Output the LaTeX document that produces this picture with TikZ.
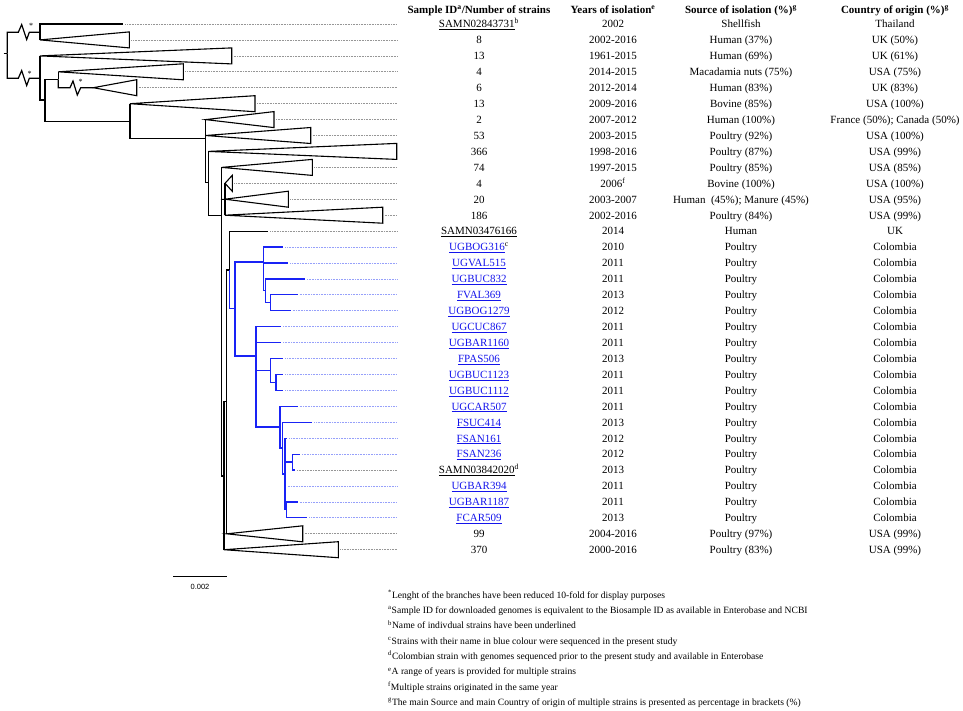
\documentclass[tikz,border=0pt]{standalone}
\usepackage{fontspec}
\setmainfont{Liberation Serif}
\newfontfamily\barfont{Liberation Sans}
\usepackage{xcolor}

\definecolor{treeblue}{RGB}{25,35,245}
\definecolor{linkblue}{RGB}{20,20,235}
\definecolor{leadgray}{RGB}{150,150,150}
\definecolor{leadblue}{RGB}{150,160,250}

\begin{document}
\begin{tikzpicture}[x=1pt,y=-1pt,
	branch/.style={line width=1.2pt},
	bluebranch/.style={branch, treeblue},
	clade/.style={line width=1.1pt},
	leader/.style={leadgray, line width=0.7pt, dash pattern=on 0.8pt off 0.8pt, shorten <=2pt},
	blueleader/.style={leader, leadblue},
	head/.style={font=\fontsize{11}{13}\selectfont\bfseries, anchor=base, yshift=-3.8pt, inner sep=0pt},
	cell/.style={font=\fontsize{11}{13}\selectfont, anchor=base, yshift=-3.8pt, inner sep=0pt},
	bluecell/.style={cell, text=linkblue},
	note/.style={font=\fontsize{9.6}{11}\selectfont, anchor=base west, yshift=-3.3pt, inner sep=0pt},
	star/.style={font=\fontsize{8}{8}\selectfont, inner sep=0pt}]
	\useasboundingbox (0,0) rectangle (963,710);

	% Tree nodes
	\coordinate (stub) at (3.5,53.3);
	\coordinate (root) at (7.3,53.3);
	\coordinate (n1) at (40,32.3);
	\coordinate (n2) at (40,78.3);
	\coordinate (n3) at (45,100);
	\coordinate (n4) at (58.3,79.3);
	\coordinate (n5) at (130,121.7);
	\coordinate (n6) at (205.7,138.3);
	\coordinate (n7) at (208.3,182.7);
	\coordinate (n8) at (221.7,215.2);
	\coordinate (n9) at (225,199.2);
	\coordinate (n10) at (224,476);
	\coordinate (n11) at (226.7,401.7);
	\coordinate (n12) at (229.3,270);
	\coordinate (b1) at (235,308.3);
	\coordinate (b2) at (263.3,262);
	\coordinate (b3) at (265.7,290.8);
	\coordinate (b4) at (270.7,302.7);
	\coordinate (b5) at (256,356);
	\coordinate (b6) at (270.7,370.4);
	\coordinate (b7) at (276,382.4);
	\coordinate (b8) at (280,427);
	\coordinate (b9) at (282.7,448);
	\coordinate (b10) at (285,474);
	\coordinate (b11) at (292.7,462);
	\coordinate (b12) at (286.7,509.8);

	% Single strains
	\coordinate (t1) at (123.3,24);
	\coordinate (t14) at (268.3,231.1);
	\coordinate (t15) at (283.3,247);
	\coordinate (t16) at (288.3,262.9);
	\coordinate (t17) at (305,278.9);
	\coordinate (t18) at (297.7,294.8);
	\coordinate (t19) at (290.7,310.7);
	\coordinate (t20) at (281,326.7);
	\coordinate (t21) at (281,342.6);
	\coordinate (t22) at (283.3,358.5);
	\coordinate (t23) at (283.3,374.4);
	\coordinate (t24) at (283.3,390.4);
	\coordinate (t25) at (297.7,406.3);
	\coordinate (t26) at (312.3,422.2);
	\coordinate (t27) at (287.3,438.2);
	\coordinate (t28) at (300,454.1);
	\coordinate (t29) at (295,470);
	\coordinate (t30) at (285.7,485.9);
	\coordinate (t31) at (297.7,501.9);
	\coordinate (t32) at (307.3,517.8);

	% Collapsed clades (apex, right side)
	\coordinate (a2) at (40,39.9);      \coordinate (w2) at (129.3,39.9);
	\coordinate (a3) at (40,55.9);      \coordinate (w3) at (231.7,55.9);
	\coordinate (a4) at (58.3,71.8);    \coordinate (w4) at (183.3,71.8);
	\coordinate (a5) at (93.3,87.7);    \coordinate (w5) at (136.7,87.7);
	\coordinate (a6) at (130,103.7);    \coordinate (w6) at (255,103.7);
	\coordinate (a7) at (205.7,119.6);  \coordinate (w7) at (274,119.6);
	\coordinate (a8) at (205.7,135.5);  \coordinate (w8) at (310.7,135.5);
	\coordinate (a9) at (208.3,151.4);  \coordinate (w9) at (396.7,151.4);
	\coordinate (a10) at (221.7,167.4); \coordinate (w10) at (312.3,167.4);
	\coordinate (a11) at (225,183.3);   \coordinate (w11) at (232.3,183.3);
	\coordinate (a12) at (225,199.2);   \coordinate (w12) at (288.3,199.2);
	\coordinate (a13) at (225,215.2);   \coordinate (w13) at (382.7,215.2);
	\coordinate (a33) at (226.7,533.8); \coordinate (w33) at (302.7,533.8);
	\coordinate (a34) at (224,549.7);   \coordinate (w34) at (338.3,549.7);

	\coordinate (rim) at (397,0);

	% Branches
	\draw[branch] (stub) -- (root);
	\draw[branch] (root) |- (18.3,32.3) -- (21.7,24.5) -- (26.7,39.5) -- (29.3,32.3) -- (n1);
	\draw[branch] (root) |- (18.3,78.3) -- (21.7,70.5) -- (26.7,85.5) -- (29.3,78.3) -- (n2);
	\draw[branch] (n1) |- (t1);
	\draw[branch] (n1) |- (a2);
	\draw[branch] (n2) |- (a3);
	\draw[branch] (n2) |- (n3);
	\draw[branch] (n3) |- (n4);
	\draw[branch] (n3) |- (n5);
	\draw[branch] (n4) |- (a4);
	\draw[branch] (n4) |- (70,87.7) -- (73,81) -- (77.3,95) -- (80.7,87.7) -- (a5);
	\draw[branch] (n5) |- (a6);
	\draw[branch] (n5) |- (n6);
	\draw[branch] (n6) |- (a7);
	\draw[branch] (n6) |- (a8);
	\draw[branch] (n6) |- (n7);
	\draw[branch] (n7) |- (a9);
	\draw[branch] (n7) |- (n8);
	\draw[branch] (n8) |- (a10);
	\draw[branch] (n8) |- (n9);
	\draw[branch] (n8) |- (n10);
	\draw[branch] (n9) |- (a11);
	\draw[branch] (n9) |- (a13);
	\draw[branch] (n10) |- (n11);
	\draw[branch] (n10) |- (a34);
	\draw[branch] (n11) |- (n12);
	\draw[branch] (n11) |- (a33);
	\draw[branch] (n12) |- (t14);

	% Colombian clade
	\draw[bluebranch] (n12) |- (b1);
	\draw[bluebranch] (b1) |- (b2);
	\draw[bluebranch] (b1) |- (b5);
	\draw[bluebranch] (b2) |- (t15);
	\draw[bluebranch] (b2) |- (t16);
	\draw[bluebranch] (b2) |- (b3);
	\draw[bluebranch] (b3) |- (t17);
	\draw[bluebranch] (b3) |- (b4);
	\draw[bluebranch] (b4) |- (t18);
	\draw[bluebranch] (b4) |- (t19);
	\draw[bluebranch] (b5) |- (t20);
	\draw[bluebranch] (b5) |- (t21);
	\draw[bluebranch] (b5) |- (b6);
	\draw[bluebranch] (b5) |- (b8);
	\draw[bluebranch] (b6) |- (t22);
	\draw[bluebranch] (b6) |- (b7);
	\draw[bluebranch] (b7) |- (t23);
	\draw[bluebranch] (b7) |- (t24);
	\draw[bluebranch] (b8) |- (t25);
	\draw[bluebranch] (b8) |- (b9);
	\draw[bluebranch] (b9) |- (t26);
	\draw[bluebranch] (b9) |- (b10);
	\draw[bluebranch] (b10) |- (t27);
	\draw[bluebranch] (b10) |- (b11);
	\draw[bluebranch] (b10) |- (t30);
	\draw[bluebranch] (b10) |- (b12);
	\draw[bluebranch] (b11) |- (t28);
	\draw[bluebranch] (b11) |- (t29);
	\draw[bluebranch] (b12) |- (t31);
	\draw[bluebranch] (b12) |- (t32);

	% Collapsed triangles
	\draw[clade] (a2) -- ([yshift=8pt]w2) -- ([yshift=-8pt]w2) -- cycle;
	\draw[clade] (a3) -- ([yshift=8pt]w3) -- ([yshift=-8pt]w3) -- cycle;
	\draw[clade] (a4) -- ([yshift=8pt]w4) -- ([yshift=-8pt]w4) -- cycle;
	\draw[clade] (a5) -- ([yshift=8pt]w5) -- ([yshift=-8pt]w5) -- cycle;
	\draw[clade] (a6) -- ([yshift=8pt]w6) -- ([yshift=-8pt]w6) -- cycle;
	\draw[clade] (a7) -- ([yshift=8pt]w7) -- ([yshift=-8pt]w7) -- cycle;
	\draw[clade] (a8) -- ([yshift=8pt]w8) -- ([yshift=-8pt]w8) -- cycle;
	\draw[clade] (a9) -- ([yshift=8pt]w9) -- ([yshift=-8pt]w9) -- cycle;
	\draw[clade] (a10) -- ([yshift=8pt]w10) -- ([yshift=-8pt]w10) -- cycle;
	\draw[clade] (a11) -- ([yshift=8pt]w11) -- ([yshift=-8pt]w11) -- cycle;
	\draw[clade] (a12) -- ([yshift=8pt]w12) -- ([yshift=-8pt]w12) -- cycle;
	\draw[clade] (a13) -- ([yshift=8pt]w13) -- ([yshift=-8pt]w13) -- cycle;
	\draw[clade] (a33) -- ([yshift=8pt]w33) -- ([yshift=-8pt]w33) -- cycle;
	\draw[clade] (a34) -- ([yshift=8pt]w34) -- ([yshift=-8pt]w34) -- cycle;

	% Reduced branches
	\node[star] (s1) at (31,26) {*};
	\node[star] (s2) at (29.7,73.5) {*};
	\node[star] (s3) at (80.7,82) {*};

	% Leaders
	\draw[leader] (t1) -- (t1 -| rim);
	\draw[leader] (w2) -- (w2 -| rim);
	\draw[leader] (w3) -- (w3 -| rim);
	\draw[leader] (w4) -- (w4 -| rim);
	\draw[leader] (w5) -- (w5 -| rim);
	\draw[leader] (w6) -- (w6 -| rim);
	\draw[leader] (w7) -- (w7 -| rim);
	\draw[leader] (w8) -- (w8 -| rim);
	\draw[leader] (w10) -- (w10 -| rim);
	\draw[leader] (w11) -- (w11 -| rim);
	\draw[leader] (w12) -- (w12 -| rim);
	\draw[leader] (w13) -- (w13 -| rim);
	\draw[leader] (t14) -- (t14 -| rim);
	\draw[blueleader] (t15) -- (t15 -| rim);
	\draw[blueleader] (t16) -- (t16 -| rim);
	\draw[blueleader] (t17) -- (t17 -| rim);
	\draw[blueleader] (t18) -- (t18 -| rim);
	\draw[blueleader] (t19) -- (t19 -| rim);
	\draw[blueleader] (t20) -- (t20 -| rim);
	\draw[blueleader] (t21) -- (t21 -| rim);
	\draw[blueleader] (t22) -- (t22 -| rim);
	\draw[blueleader] (t23) -- (t23 -| rim);
	\draw[blueleader] (t24) -- (t24 -| rim);
	\draw[blueleader] (t25) -- (t25 -| rim);
	\draw[blueleader] (t26) -- (t26 -| rim);
	\draw[blueleader] (t27) -- (t27 -| rim);
	\draw[blueleader] (t28) -- (t28 -| rim);
	\draw[leader] (t29) -- (t29 -| rim);
	\draw[blueleader] (t30) -- (t30 -| rim);
	\draw[blueleader] (t31) -- (t31 -| rim);
	\draw[blueleader] (t32) -- (t32 -| rim);
	\draw[leader] (w33) -- (w33 -| rim);
	\draw[leader] (w34) -- (w34 -| rim);

	% Scale bar
	\coordinate (sbl) at (173,576.7);
	\coordinate (sbr) at (227,576.7);
	\draw[line width=1pt] (sbl) -- (sbr);
	\node[font=\barfont\fontsize{7.5}{8}\selectfont] (sbtext) at (200,586.5) {0.002};

	% Header
	\node[head] (hid) at (479,10) {Sample ID\textsuperscript{a}/Number of strains};
	\node[head] (hyr) at (613,10) {Years of isolation\textsuperscript{e}};
	\node[head] (hsrc) at (741,10) {Source of isolation (\%)\textsuperscript{g}};
	\node[head] (hctry) at (895,10) {Country of origin (\%)\textsuperscript{g}};

	% Sample ID / number of strains
	\node[cell] (id1) at (479,24) {\underline{SAMN02843731}\textsuperscript{b}};
	\node[cell] (id2) at (479,39.9) {8};
	\node[cell] (id3) at (479,55.9) {13};
	\node[cell] (id4) at (479,71.8) {4};
	\node[cell] (id5) at (479,87.7) {6};
	\node[cell] (id6) at (479,103.7) {13};
	\node[cell] (id7) at (479,119.6) {2};
	\node[cell] (id8) at (479,135.5) {53};
	\node[cell] (id9) at (479,151.4) {366};
	\node[cell] (id10) at (479,167.4) {74};
	\node[cell] (id11) at (479,183.3) {4};
	\node[cell] (id12) at (479,199.2) {20};
	\node[cell] (id13) at (479,215.2) {186};
	\node[cell] (id14) at (479,231.1) {\underline{SAMN03476166}};
	\node[bluecell] (id15) at (479,247) {\underline{UGBOG316}\textsuperscript{\color{black}c}};
	\node[bluecell] (id16) at (479,262.9) {\underline{UGVAL515}};
	\node[bluecell] (id17) at (479,278.9) {\underline{UGBUC832}};
	\node[bluecell] (id18) at (479,294.8) {\underline{FVAL369}};
	\node[bluecell] (id19) at (479,310.7) {\underline{UGBOG1279}};
	\node[bluecell] (id20) at (479,326.7) {\underline{UGCUC867}};
	\node[bluecell] (id21) at (479,342.6) {\underline{UGBAR1160}};
	\node[bluecell] (id22) at (479,358.5) {\underline{FPAS506}};
	\node[bluecell] (id23) at (479,374.4) {\underline{UGBUC1123}};
	\node[bluecell] (id24) at (479,390.4) {\underline{UGBUC1112}};
	\node[bluecell] (id25) at (479,406.3) {\underline{UGCAR507}};
	\node[bluecell] (id26) at (479,422.2) {\underline{FSUC414}};
	\node[bluecell] (id27) at (479,438.2) {\underline{FSAN161}};
	\node[bluecell] (id28) at (479,454.1) {\underline{FSAN236}};
	\node[cell] (id29) at (479,470) {\underline{SAMN03842020}\textsuperscript{d}};
	\node[bluecell] (id30) at (479,485.9) {\underline{UGBAR394}};
	\node[bluecell] (id31) at (479,501.9) {\underline{UGBAR1187}};
	\node[bluecell] (id32) at (479,517.8) {\underline{FCAR509}};
	\node[cell] (id33) at (479,533.8) {99};
	\node[cell] (id34) at (479,549.7) {370};

	% Years of isolation
	\node[cell] (yr1) at (613,24) {2002};
	\node[cell] (yr2) at (613,39.9) {2002-2016};
	\node[cell] (yr3) at (613,55.9) {1961-2015};
	\node[cell] (yr4) at (613,71.8) {2014-2015};
	\node[cell] (yr5) at (613,87.7) {2012-2014};
	\node[cell] (yr6) at (613,103.7) {2009-2016};
	\node[cell] (yr7) at (613,119.6) {2007-2012};
	\node[cell] (yr8) at (613,135.5) {2003-2015};
	\node[cell] (yr9) at (613,151.4) {1998-2016};
	\node[cell] (yr10) at (613,167.4) {1997-2015};
	\node[cell] (yr11) at (613,183.3) {2006\textsuperscript{f}};
	\node[cell] (yr12) at (613,199.2) {2003-2007};
	\node[cell] (yr13) at (613,215.2) {2002-2016};
	\node[cell] (yr14) at (613,231.1) {2014};
	\node[cell] (yr15) at (613,247) {2010};
	\node[cell] (yr16) at (613,262.9) {2011};
	\node[cell] (yr17) at (613,278.9) {2011};
	\node[cell] (yr18) at (613,294.8) {2013};
	\node[cell] (yr19) at (613,310.7) {2012};
	\node[cell] (yr20) at (613,326.7) {2011};
	\node[cell] (yr21) at (613,342.6) {2011};
	\node[cell] (yr22) at (613,358.5) {2013};
	\node[cell] (yr23) at (613,374.4) {2011};
	\node[cell] (yr24) at (613,390.4) {2011};
	\node[cell] (yr25) at (613,406.3) {2011};
	\node[cell] (yr26) at (613,422.2) {2013};
	\node[cell] (yr27) at (613,438.2) {2012};
	\node[cell] (yr28) at (613,454.1) {2012};
	\node[cell] (yr29) at (613,470) {2013};
	\node[cell] (yr30) at (613,485.9) {2011};
	\node[cell] (yr31) at (613,501.9) {2011};
	\node[cell] (yr32) at (613,517.8) {2013};
	\node[cell] (yr33) at (613,533.8) {2004-2016};
	\node[cell] (yr34) at (613,549.7) {2000-2016};

	% Source of isolation
	\node[cell] (src1) at (741,24) {Shellfish};
	\node[cell] (src2) at (741,39.9) {Human (37\%)};
	\node[cell] (src3) at (741,55.9) {Human (69\%)};
	\node[cell] (src4) at (741,71.8) {Macadamia nuts (75\%)};
	\node[cell] (src5) at (741,87.7) {Human (83\%)};
	\node[cell] (src6) at (741,103.7) {Bovine (85\%)};
	\node[cell] (src7) at (741,119.6) {Human (100\%)};
	\node[cell] (src8) at (741,135.5) {Poultry (92\%)};
	\node[cell] (src9) at (741,151.4) {Poultry (87\%)};
	\node[cell] (src10) at (741,167.4) {Poultry (85\%)};
	\node[cell] (src11) at (741,183.3) {Bovine (100\%)};
	\node[cell] (src12) at (741,199.2) {Human\ \ (45\%); Manure (45\%)};
	\node[cell] (src13) at (741,215.2) {Poultry (84\%)};
	\node[cell] (src14) at (741,231.1) {Human};
	\node[cell] (src15) at (741,247) {Poultry};
	\node[cell] (src16) at (741,262.9) {Poultry};
	\node[cell] (src17) at (741,278.9) {Poultry};
	\node[cell] (src18) at (741,294.8) {Poultry};
	\node[cell] (src19) at (741,310.7) {Poultry};
	\node[cell] (src20) at (741,326.7) {Poultry};
	\node[cell] (src21) at (741,342.6) {Poultry};
	\node[cell] (src22) at (741,358.5) {Poultry};
	\node[cell] (src23) at (741,374.4) {Poultry};
	\node[cell] (src24) at (741,390.4) {Poultry};
	\node[cell] (src25) at (741,406.3) {Poultry};
	\node[cell] (src26) at (741,422.2) {Poultry};
	\node[cell] (src27) at (741,438.2) {Poultry};
	\node[cell] (src28) at (741,454.1) {Poultry};
	\node[cell] (src29) at (741,470) {Poultry};
	\node[cell] (src30) at (741,485.9) {Poultry};
	\node[cell] (src31) at (741,501.9) {Poultry};
	\node[cell] (src32) at (741,517.8) {Poultry};
	\node[cell] (src33) at (741,533.8) {Poultry (97\%)};
	\node[cell] (src34) at (741,549.7) {Poultry (83\%)};

	% Country of origin
	\node[cell] (ctry1) at (895,24) {Thailand};
	\node[cell] (ctry2) at (895,39.9) {UK (50\%)};
	\node[cell] (ctry3) at (895,55.9) {UK (61\%)};
	\node[cell] (ctry4) at (895,71.8) {USA (75\%)};
	\node[cell] (ctry5) at (895,87.7) {UK (83\%)};
	\node[cell] (ctry6) at (895,103.7) {USA (100\%)};
	\node[cell] (ctry7) at (895,119.6) {France (50\%); Canada (50\%)};
	\node[cell] (ctry8) at (895,135.5) {USA (100\%)};
	\node[cell] (ctry9) at (895,151.4) {USA (99\%)};
	\node[cell] (ctry10) at (895,167.4) {USA (85\%)};
	\node[cell] (ctry11) at (895,183.3) {USA (100\%)};
	\node[cell] (ctry12) at (895,199.2) {USA (95\%)};
	\node[cell] (ctry13) at (895,215.2) {USA (99\%)};
	\node[cell] (ctry14) at (895,231.1) {UK};
	\node[cell] (ctry15) at (895,247) {Colombia};
	\node[cell] (ctry16) at (895,262.9) {Colombia};
	\node[cell] (ctry17) at (895,278.9) {Colombia};
	\node[cell] (ctry18) at (895,294.8) {Colombia};
	\node[cell] (ctry19) at (895,310.7) {Colombia};
	\node[cell] (ctry20) at (895,326.7) {Colombia};
	\node[cell] (ctry21) at (895,342.6) {Colombia};
	\node[cell] (ctry22) at (895,358.5) {Colombia};
	\node[cell] (ctry23) at (895,374.4) {Colombia};
	\node[cell] (ctry24) at (895,390.4) {Colombia};
	\node[cell] (ctry25) at (895,406.3) {Colombia};
	\node[cell] (ctry26) at (895,422.2) {Colombia};
	\node[cell] (ctry27) at (895,438.2) {Colombia};
	\node[cell] (ctry28) at (895,454.1) {Colombia};
	\node[cell] (ctry29) at (895,470) {Colombia};
	\node[cell] (ctry30) at (895,485.9) {Colombia};
	\node[cell] (ctry31) at (895,501.9) {Colombia};
	\node[cell] (ctry32) at (895,517.8) {Colombia};
	\node[cell] (ctry33) at (895,533.8) {USA (99\%)};
	\node[cell] (ctry34) at (895,549.7) {USA (99\%)};

	% Footnotes
	\node[note] (fn0) at (388,595) {\textsuperscript{*}Lenght of the branches have been reduced 10-fold for display purposes};
	\node[note] (fna) at (388,610.3) {\textsuperscript{a}Sample ID for downloaded genomes is equivalent to the Biosample ID as available in Enterobase and NCBI};
	\node[note] (fnb) at (388,625.6) {\textsuperscript{b}Name of indivdual strains have been underlined};
	\node[note] (fnc) at (388,640.9) {\textsuperscript{c}Strains with their name in blue colour were sequenced in the present study};
	\node[note] (fnd) at (388,656.2) {\textsuperscript{d}Colombian strain with genomes sequenced prior to the present study and available in Enterobase};
	\node[note] (fne) at (388,671.5) {\textsuperscript{e}A range of years is provided for multiple strains};
	\node[note] (fnf) at (388,686.8) {\textsuperscript{f}Multiple strains originated in the same year};
	\node[note] (fng) at (388,702.1) {\textsuperscript{g}The main Source and main Country of origin of multiple strains is presented as percentage in brackets (\%)};
\end{tikzpicture}
\end{document}
